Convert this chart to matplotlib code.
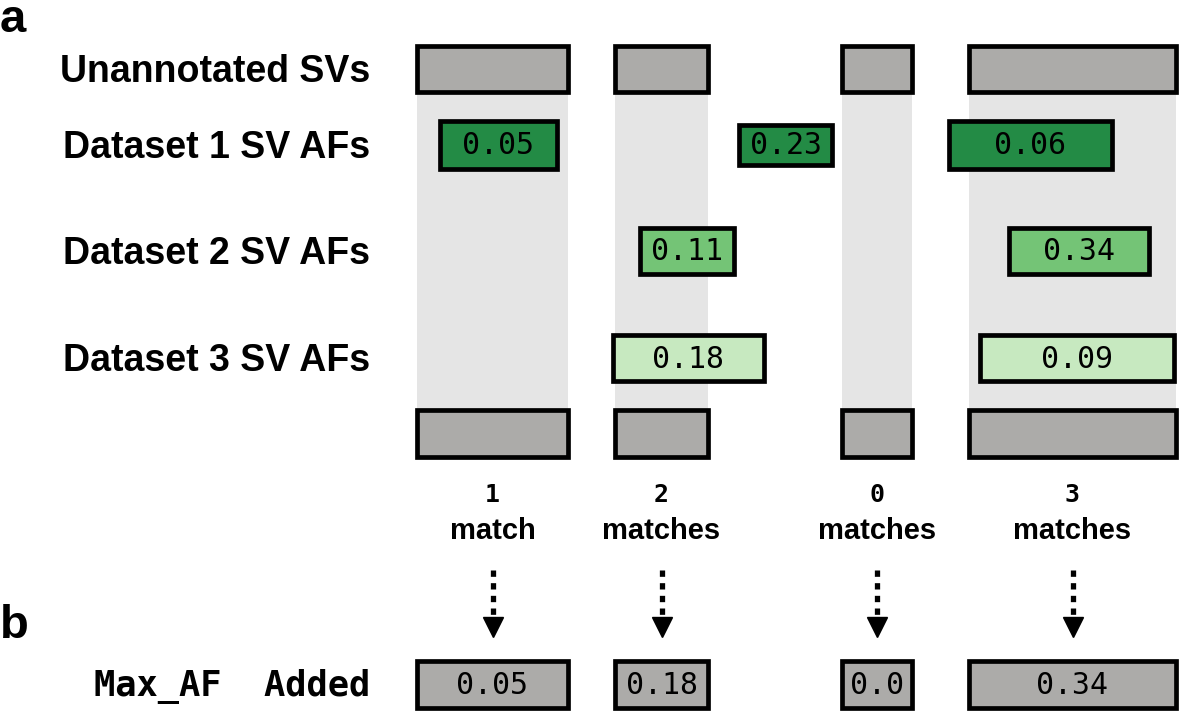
"""
Schematic: matching unannotated SVs against three datasets and adding Max_AF.
Drawn in pixel coordinates (1180 x 711) on a single hidden axes.
"""

import matplotlib.pyplot as plt
from matplotlib.patches import Rectangle

# ---------------------------------------------------------------------------
# Data: SV intervals and the matching dataset intervals with their AFs
# ---------------------------------------------------------------------------

sv_starts = [415, 613, 840, 967]
sv_ends   = [570, 710, 914, 1178]

ds1_starts = [438, 737, 947]
ds1_ends   = [559, 834, 1114]
ds1_afs    = ['0.05', '0.23', '0.06']

ds2_starts = [638, 1007]
ds2_ends   = [736, 1151]
ds2_afs    = ['0.11', '0.34']

ds3_starts = [611, 978]
ds3_ends   = [766, 1176]
ds3_afs    = ['0.18', '0.09']

n_matches = [1, 2, 0, 3]
max_af    = ['0.05', '0.18', '0.0', '0.34']

row_labels = ['Unannotated SVs', 'Dataset 1 SV AFs', 'Dataset 2 SV AFs', 'Dataset 3 SV AFs']

# ---------------------------------------------------------------------------
# Style
# ---------------------------------------------------------------------------

SANS = 'Liberation Sans'
MONO = 'DejaVu Sans Mono'
EDGE_PX = 4.7
EDGE_LW = EDGE_PX * 72 / 100
GREY   = '#acaba9'
SHADE  = '#e5e5e5'
GREENS = ['#238b45', '#74c476', '#c7e9c0']

ROW_Y   = [69, 145, 251, 358]     # row centres, panel a
BOT_Y   = 433.5                   # lower SV boxes
MAX_Y   = 684.5                   # panel b boxes
BOX_H   = 50


def box(ax, x0, x1, yc, h, fc, label=None):
    # outer edge of the black frame sits on x0/x1
    ax.add_patch(Rectangle((x0 + EDGE_PX / 2, yc - h / 2 + EDGE_PX / 2),
                           x1 - x0 - EDGE_PX, h - EDGE_PX,
                           facecolor=fc, edgecolor='black', lw=EDGE_LW, zorder=3))
    if label is not None:
        ax.text((x0 + x1) / 2, yc + 1, label, ha='center', va='center',
                family=MONO, fontsize=21.5, zorder=4)


fig = plt.figure(figsize=(11.8, 7.11), dpi=100)
ax = fig.add_axes([0, 0, 1, 1])
ax.set_xlim(0, 1180)
ax.set_ylim(711, 0)
ax.axis('off')

# grey shading connecting upper and lower SV boxes
for s, e in zip(sv_starts, sv_ends):
    ax.add_patch(Rectangle((s + EDGE_PX / 2, ROW_Y[0]), e - s - EDGE_PX, BOT_Y - ROW_Y[0],
                           facecolor=SHADE, edgecolor='none', zorder=1))
    box(ax, s, e, ROW_Y[0], BOX_H, GREY)
    box(ax, s, e, BOT_Y, BOX_H + 1, GREY)

for i, (s, e, af) in enumerate(zip(ds1_starts, ds1_ends, ds1_afs)):
    box(ax, s, e, ROW_Y[1], 44 if i == 1 else 52, GREENS[0], af)
for s, e, af in zip(ds2_starts, ds2_ends, ds2_afs):
    box(ax, s, e, ROW_Y[2], BOX_H, GREENS[1], af)
for s, e, af in zip(ds3_starts, ds3_ends, ds3_afs):
    box(ax, s, e, ROW_Y[3], BOX_H, GREENS[2], af)

# row labels
for y, lab in zip(ROW_Y, row_labels):
    ax.text(370, y + 3, lab, ha='right', va='center', family=SANS,
            fontweight='bold', fontsize=27)

# match counts, arrows and Max_AF boxes
for s, e, n, af in zip(sv_starts, sv_ends, n_matches, max_af):
    xc = (s + e) / 2
    ax.text(xc, 495, str(n), ha='center', va='center', family=MONO,
            fontweight='bold', fontsize=18)
    ax.text(xc, 531, 'match' if n == 1 else 'matches', ha='center', va='center',
            family=SANS, fontweight='bold', fontsize=21)
    ax.plot([xc, xc], [570, 616], color='black', lw=3.8,
            linestyle=(0, (1.2, 1.2)), solid_capstyle='butt')
    ax.plot([xc], [627], marker='v', color='black', markersize=14, linestyle='none')
    box(ax, s, e, MAX_Y, 51, GREY, af)

ax.text(370, 687, 'Max_AF  Added', ha='right', va='center', family=MONO,
        fontweight='bold', fontsize=25.5)

ax.text(0, 20, 'a', ha='left', va='center', family=SANS, fontweight='bold', fontsize=34)
ax.text(0, 626, 'b', ha='left', va='center', family=SANS, fontweight='bold', fontsize=34)

fig.savefig('out.png', dpi=100)
